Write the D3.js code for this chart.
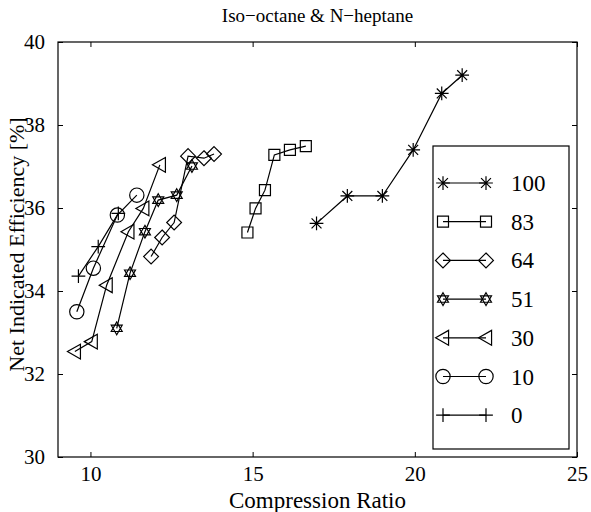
<!DOCTYPE html>
<html>
<head>
<meta charset="utf-8">
<script src="https://cdn.jsdelivr.net/npm/d3@7"></script>
<style>
  body { margin: 0; background: #fff; }
</style>
</head>
<body>
<svg id="chart" width="591" height="512"></svg>
<script>
// octane numbers (legend order) and their markers
const labels = ["100", "83", "64", "51", "30", "10", "0"]
const symbols = ["asterisk", "square", "diamond", "star", "triangle", "circle", "plus"]

// compression ratio / efficiency per series
const cr100 = [16.97, 17.92, 19.0, 19.95, 20.83, 21.46]
const eff100 = [35.63, 36.29, 36.29, 37.4, 38.76, 39.2]
const cr83 = [14.84, 15.09, 15.38, 15.67, 16.15, 16.64]
const eff83 = [35.41, 35.99, 36.43, 37.28, 37.4, 37.49]
const cr64 = [11.87, 12.21, 12.58, 13.01, 13.5, 13.81]
const eff64 = [34.83, 35.29, 35.65, 37.25, 37.2, 37.3]
const cr51 = [10.81, 11.22, 11.68, 12.09, 12.66, 13.13]
const eff51 = [33.1, 34.43, 35.43, 36.19, 36.31, 37.01]
const cr30 = [9.52, 10.04, 10.5, 11.17, 11.63, 12.14]
const eff30 = [32.54, 32.78, 34.14, 35.43, 35.99, 37.04]
const cr10 = [9.58, 10.09, 10.83, 11.43]
const eff10 = [33.5, 34.55, 35.83, 36.31]
const cr0 = [9.63, 10.24, 10.86]
const eff0 = [34.36, 35.07, 35.87]

const xTicks = [10, 15, 20, 25]
const yTicks = [30, 32, 34, 36, 38, 40]

const series = [
    [cr100, eff100], [cr83, eff83], [cr64, eff64], [cr51, eff51],
    [cr30, eff30], [cr10, eff10], [cr0, eff0]
].map(([xs, ys], i) => ({
    label: labels[i],
    symbol: symbols[i],
    points: xs.map((x, j) => [x, ys[j]])
}))

const mLeft = 58, mRight = 577, mTop = 42, mBottom = 457
const serif = "Liberation Serif"

const x = d3.scaleLinear().domain([9, 25]).range([mLeft, mRight])
const y = d3.scaleLinear().domain([30, 40]).range([mBottom, mTop])

const svg = d3.select("#chart")

// frame
svg.append("rect")
    .attr("x", mLeft).attr("y", mTop)
    .attr("width", mRight - mLeft).attr("height", mBottom - mTop)
    .attr("fill", "none").attr("stroke", "#000").attr("stroke-width", 1.2)

// axes, ticks pointing inward, mirrored on the opposite side
const tickLen = 5
svg.append("g")
    .attr("transform", `translate(0,${mBottom})`)
    .call(d3.axisBottom(x).tickValues(xTicks).tickSize(-tickLen).tickPadding(9))
    .call(g => g.select(".domain").remove())
svg.append("g")
    .attr("transform", `translate(0,${mTop})`)
    .call(d3.axisTop(x).tickValues(xTicks).tickSize(-tickLen).tickFormat(""))
    .call(g => g.select(".domain").remove())
svg.append("g")
    .attr("transform", `translate(${mLeft},0)`)
    .call(d3.axisLeft(y).tickValues(yTicks).tickSize(-tickLen).tickPadding(13))
    .call(g => g.select(".domain").remove())
svg.append("g")
    .attr("transform", `translate(${mRight},0)`)
    .call(d3.axisRight(y).tickValues(yTicks).tickSize(-tickLen).tickFormat(""))
    .call(g => g.select(".domain").remove())

svg.selectAll(".tick text")
    .attr("font-size", 21)
    .attr("font-family", serif)
    .attr("fill", "#000")
svg.selectAll(".tick line").attr("stroke-width", 1)

// marker shapes
function marker(g, type, s) {
    const p = g.append("path")
        .attr("fill", "none").attr("stroke", "#000").attr("stroke-width", 1.2)
    const r = s / 2
    if (type === "square") p.attr("d", `M${-r},${-r}H${r}V${r}H${-r}Z`)
    else if (type === "diamond") p.attr("d", `M0,${-r * 1.35}L${r * 1.35},0L0,${r * 1.35}L${-r * 1.35},0Z`)
    else if (type === "circle") p.attr("d", d3.arc()({ innerRadius: 0, outerRadius: r * 1.3, startAngle: 0, endAngle: 2 * Math.PI }))
    else if (type === "triangle") {
        const t = r * 1.35
        p.attr("d", `M${-t},0L${t * 0.75},${-t}L${t * 0.75},${t}Z`)
    } else if (type === "plus") p.attr("d", `M${-r * 1.25},0H${r * 1.25}M0,${-r * 1.25}V${r * 1.25}`)
    else if (type === "asterisk") {
        const a = r * 1.25, b = a * 0.72
        p.attr("d", `M${-a},0H${a}M0,${-a}V${a}M${-b},${-b}L${b},${b}M${-b},${b}L${b},${-b}`)
    } else if (type === "star") {
        const o = r * 1.15, t1 = []
        const t2 = []
        for (let k = 0; k < 3; k++) {
            t1.push([o * Math.sin(k * 2 * Math.PI / 3), -o * Math.cos(k * 2 * Math.PI / 3)])
            t2.push([o * Math.sin(k * 2 * Math.PI / 3 + Math.PI), -o * Math.cos(k * 2 * Math.PI / 3 + Math.PI)])
        }
        p.attr("d", "M" + t1.join("L") + "ZM" + t2.join("L") + "Z")
    }
}

const line = d3.line().x(d => x(d[0])).y(d => y(d[1]))

const plot = svg.append("g")
series.forEach(s => {
    plot.append("path")
        .attr("d", line(s.points))
        .attr("fill", "none").attr("stroke", "#000").attr("stroke-width", 1.2)
    s.points.forEach(pt => {
        const g = plot.append("g").attr("transform", `translate(${x(pt[0])},${y(pt[1])})`)
        marker(g, s.symbol, 11)
    })
})

// legend
const lx = 433, ly = 146, lw = 136, lh = 303
const legend = svg.append("g")
legend.append("rect")
    .attr("x", lx).attr("y", ly).attr("width", lw).attr("height", lh)
    .attr("fill", "#fff").attr("stroke", "#000").attr("stroke-width", 1.2)
series.forEach((s, i) => {
    const yy = 183 + i * 38.7
    legend.append("line")
        .attr("x1", 443).attr("x2", 486).attr("y1", yy).attr("y2", yy)
        .attr("stroke", "#000").attr("stroke-width", 1.2)
    marker(legend.append("g").attr("transform", `translate(443,${yy})`), s.symbol, 11)
    marker(legend.append("g").attr("transform", `translate(486,${yy})`), s.symbol, 11)
    legend.append("text")
        .attr("x", 511).attr("y", yy).attr("dy", "0.35em")
        .attr("font-size", 23).attr("font-family", serif)
        .text(s.label)
})

// titles
svg.append("text")
    .attr("x", (mLeft + mRight) / 2).attr("y", 22)
    .attr("text-anchor", "middle").attr("font-size", 19).attr("font-family", serif)
    .text("Iso\u2212octane & N\u2212heptane")
svg.append("text")
    .attr("x", (mLeft + mRight) / 2).attr("y", 508)
    .attr("text-anchor", "middle").attr("font-size", 23).attr("font-family", serif)
    .text("Compression Ratio")
svg.append("text")
    .attr("transform", `translate(24,${(mTop + mBottom) / 2 - 5}) rotate(-90)`)
    .attr("text-anchor", "middle").attr("font-size", 22).attr("font-family", serif)
    .text("Net Indicated Efficiency [%]")
</script>
</body>
</html>
